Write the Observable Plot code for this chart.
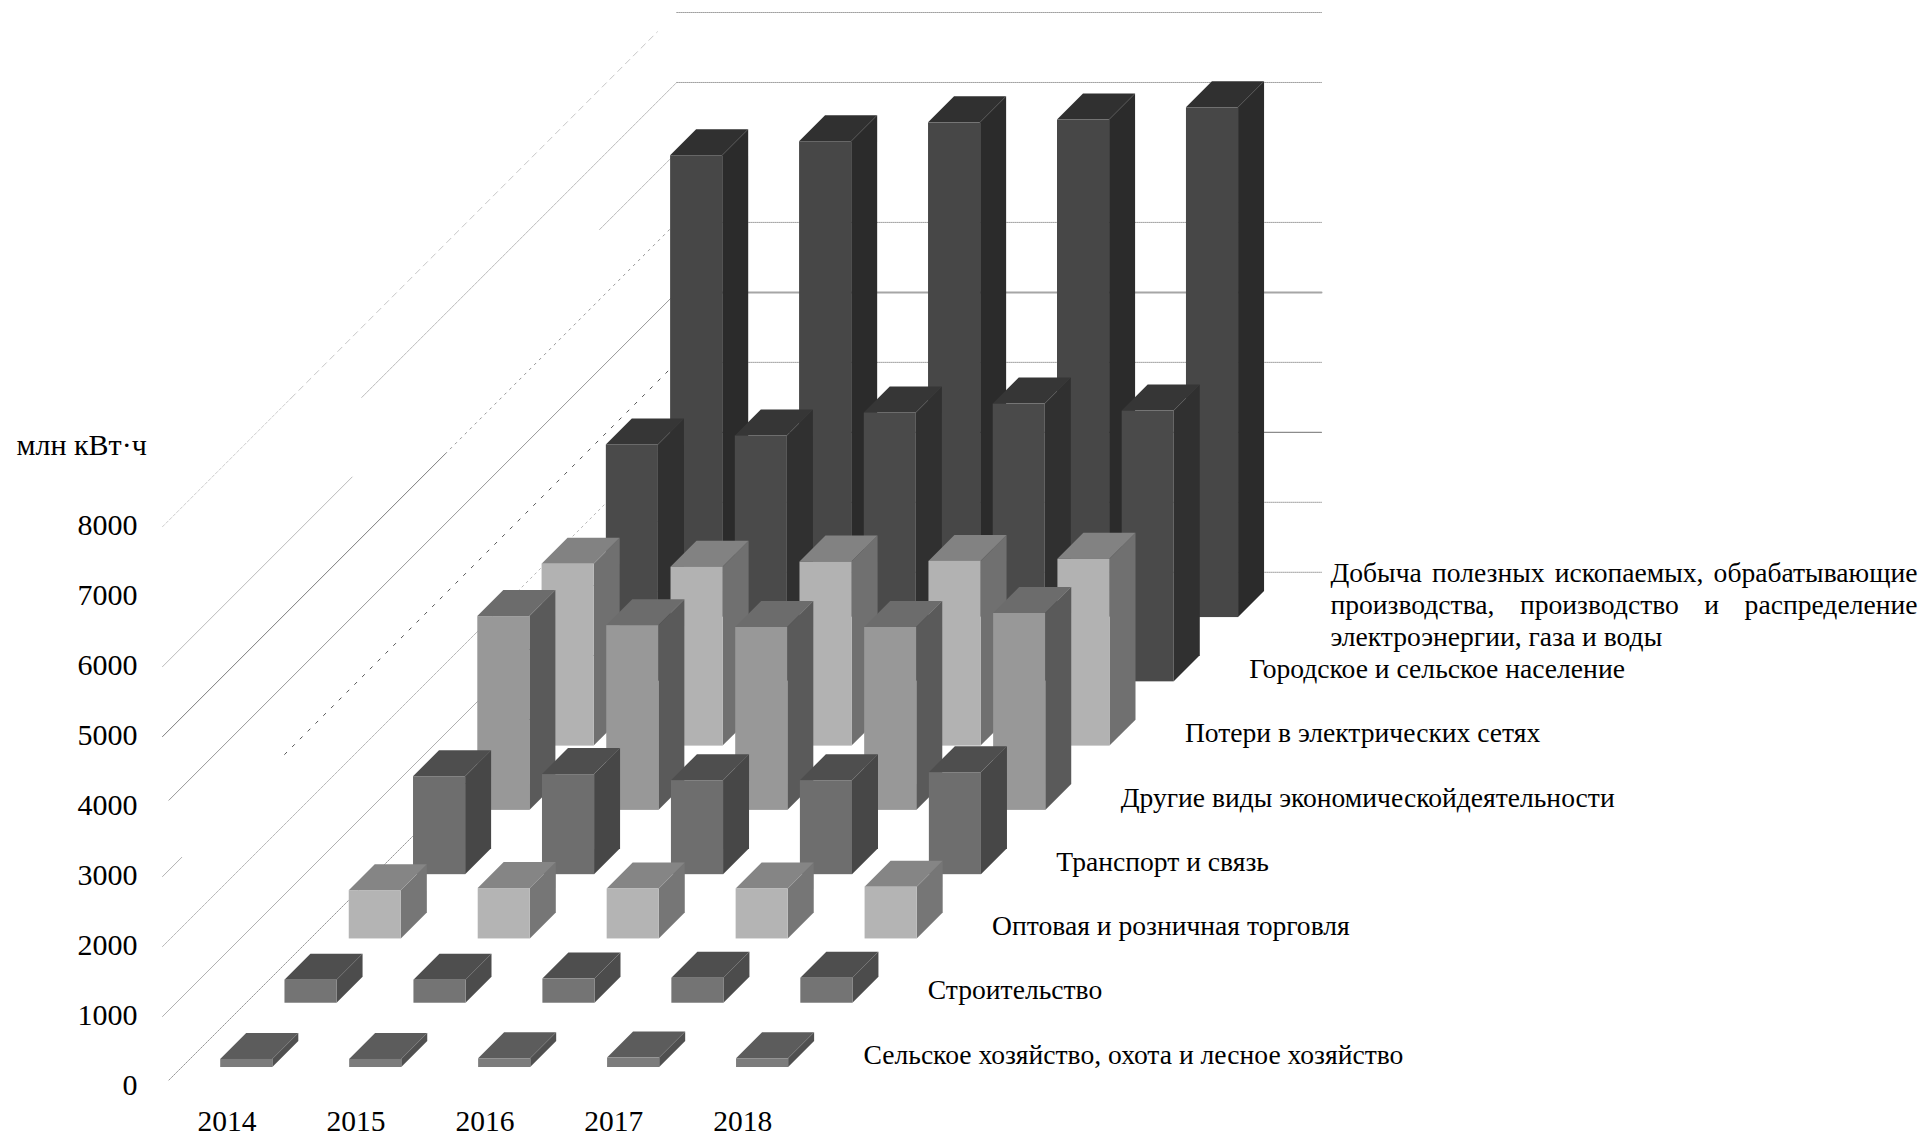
<!DOCTYPE html>
<html lang="ru">
<head>
<meta charset="utf-8">
<title>Потребление электроэнергии по видам деятельности</title>
<script src="https://cdn.jsdelivr.net/npm/d3@7"></script>
<script src="https://cdn.jsdelivr.net/npm/@observablehq/plot@0.6"></script>
<style>
  html, body { margin: 0; padding: 0; background: #fff; }
  svg { display: block; }
</style>
</head>
<body>
<script>
// Consumption per sector, million kWh, 2014–2018
const years = [2014, 2015, 2016, 2017, 2018];
const agriculture = [115, 115, 125, 135, 125];
const construction = [330, 330, 345, 357, 357];
const trade = [690, 720, 714, 714, 740];
const transport = [1400, 1430, 1343, 1343, 1457];
const otherActivities = [2770, 2640, 2614, 2614, 2814];
const gridLosses = [2600, 2557, 2630, 2640, 2670];
const households = [3386, 3514, 3843, 3970, 3870];
const industry = [6600, 6800, 7070, 7110, 7285];

const valueTicks = [0, 1000, 2000, 3000, 4000, 5000, 6000, 7000, 8000];

// Rows from the front of the chart to the back, with face greys
const rows = [
  {name: "Сельское хозяйство, охота и лесное хозяйство", values: agriculture, front: "#7c7c7c", top: "#5c5c5c", side: "#505050"},
  {name: "Строительство", values: construction, front: "#747474", top: "#4e4e4e", side: "#4c4c4c"},
  {name: "Оптовая и розничная торговля", values: trade, front: "#b4b4b4", top: "#858585", side: "#767676"},
  {name: "Транспорт и связь", values: transport, front: "#6e6e6e", top: "#4e4e4e", side: "#474747"},
  {name: "Другие виды экономическойдеятельности", values: otherActivities, front: "#989898", top: "#6c6c6c", side: "#5a5a5a"},
  {name: "Потери в электрических сетях", values: gridLosses, front: "#b2b2b2", top: "#828282", side: "#707070"},
  {name: "Городское и сельское население", values: households, front: "#4a4a4a", top: "#363636", side: "#303030"},
  {name: "", values: industry, front: "#474747", top: "#303030", side: "#2b2b2b"}
];
const industryLabel = [
  "Добыча полезных ископаемых, обрабатывающие",
  "производства, производство и распределение",
  "электроэнергии, газа и воды"
];

// Oblique projection: one depth row moves a point right and up
const rowDx = 0.4984;        // in year slots
const rowDy = 918.6;         // in value units
const barLeft = 0.304, barRight = 0.708;
const depthFront = 0.2955, depthBack = 0.6999;
const px = (slot, depth) => slot + depth * rowDx;
const py = (value, depth) => value + depth * rowDy;

const depthExtent = rows.length;
const xMax = years.length + depthExtent * rowDx;
const yMax = 8000 + depthExtent * rowDy;

// Back wall: horizontal rules, hidden behind the bars where they pass
const wallStyles = new Map([
  [4000, {stroke: "#a6a6a6", strokeWidth: 2}],
  [2000, {stroke: "#8c8c8c", strokeWidth: 1.2}]
]);
const wallMarks = valueTicks.filter((v) => v !== 6000).map((v) => {
  const st = wallStyles.get(v) ?? {stroke: "#a0a0a0", strokeWidth: 1, strokeDasharray: "1 1"};
  return Plot.line(
    [[px(0, depthExtent), py(v, depthExtent)], [px(years.length, depthExtent), py(v, depthExtent)]],
    st
  );
});

// Side wall: diagonal rules, each with its own visible stretch and line weight
const wallDiagonals = [
  {value: 0, from: 0.1, to: 8, dash: "1.2 1.2", stroke: "#8a8a8a", width: 0.9},
  {value: 1000, from: 0, to: 8, stroke: "#9a9a9a", width: 0.8},
  {value: 2000, from: 0, to: 5, dash: "3 1", stroke: "#a4a4a4", width: 0.8},
  {value: 2000, from: 5, to: 8, dash: "2 4", stroke: "#a4a4a4", width: 0.8},
  {value: 3000, from: 0, to: 0.3, stroke: "#a0a0a0", width: 0.8},
  {value: 3000, from: 1.9, to: 8, dash: "3 8", stroke: "#555555", width: 1},
  {value: 4000, from: 0.1, to: 8, stroke: "#7c7c7c", width: 0.8},
  {value: 5000, from: 0, to: 4.4, stroke: "#6e6e6e", width: 0.9},
  {value: 5000, from: 4.4, to: 8, dash: "2 5", stroke: "#8a8a8a", width: 0.9},
  {value: 6000, from: 0, to: 2.95, stroke: "#a8a8a8", width: 0.8},
  {value: 6000, from: 6.8, to: 8, dash: "4 1", stroke: "#a8a8a8", width: 0.8},
  {value: 7000, from: 3.1, to: 8, dash: "3 1", stroke: "#a8a8a8", width: 0.8},
  {value: 8000, from: 0, to: 2, dash: "3 2", stroke: "#c0c0c0", width: 0.8},
  {value: 8000, from: 2, to: 7.7, dash: "6 5", stroke: "#b8b8b8", width: 0.8}
];
const diagonalMarks = wallDiagonals.map((g) => Plot.line(
  [[px(0, g.from), py(g.value, g.from)], [px(0, g.to), py(g.value, g.to)]],
  {stroke: g.stroke, strokeWidth: g.width, strokeDasharray: g.dash}
));

// Each bar is three faces; rows are painted from the back forward
const barMarks = rows.map((row, r) => ({row, r})).reverse().flatMap(({row, r}) => {
  const d0 = r + depthFront, d1 = r + depthBack;
  const bars = row.values.map((value, i) => ({i, value}));
  const tops = bars.flatMap(({i, value}) => [d0, d1].map((d) => ({
    i, y: py(value, d), x1: px(i + barLeft, d), x2: px(i + barRight, d)
  })));
  const sides = bars.flatMap(({i, value}) => [d0, d1].map((d) => ({
    i, x: px(i + barRight, d), y1: py(0, d), y2: py(value, d)
  })));
  return [
    Plot.areaY(sides, {x: "x", y1: "y1", y2: "y2", z: "i", fill: row.side}),
    Plot.areaX(tops, {y: "y", x1: "x1", x2: "x2", z: "i", fill: row.top}),
    Plot.rect(bars, {
      x1: (b) => px(b.i + barLeft, d0),
      x2: (b) => px(b.i + barRight, d0),
      y1: py(0, d0),
      y2: (b) => py(b.value, d0),
      fill: row.front
    })
  ];
});

// Row names sit along the floor's right-hand edge
const labelSlot = years.length + 0.436;
const labelValue = 453;
const rowLabels = rows.slice(0, 7).map((row, r) => ({
  text: row.name,
  x: labelSlot + r * rowDx,
  y: labelValue + r * rowDy
}));
const labelSize = 27.6;

const industryRow = rows.length - 1;
const industryAt = (dy) => ({
  x: labelSlot + industryRow * rowDx,
  y: labelValue + industryRow * rowDy,
  dx: 17,
  dy,
  textAnchor: "start",
  lineAnchor: "middle",
  fontSize: labelSize,
  fill: "#000"
});

const plot = Plot.plot({
  width: 1926,
  height: 1136,
  marginLeft: 162,
  marginRight: 605,
  marginTop: 12,
  marginBottom: 50,
  style: {fontFamily: "'Liberation Serif', serif", background: "#fff", color: "#000"},
  x: {domain: [0, xMax], axis: null},
  y: {domain: [0, yMax], axis: null},
  marks: [
    ...wallMarks,
    ...diagonalMarks,
    ...barMarks,
    Plot.axisY({
      ticks: valueTicks, tickSize: 0, tickPadding: 25, tickFormat: (d) => String(d),
      fontSize: 30, label: null, anchor: "left", dy: -1
    }),
    Plot.axisX({
      ticks: years.map((_, i) => i + 0.5),
      tickFormat: (d) => String(years[Math.floor(d)]),
      tickSize: 0, tickPadding: 24, fontSize: 29.5, label: null, anchor: "bottom"
    }),
    Plot.text(["млн кВт·ч"], {
      x: -1.132, y: 9157, textAnchor: "start", lineAnchor: "middle", fontSize: 30, fill: "#000"
    }),
    Plot.text(rowLabels, {
      x: "x", y: "y", text: "text", textAnchor: "start", lineAnchor: "middle",
      fontSize: labelSize, fill: "#000"
    }),
    Plot.text([industryLabel[0]], industryAt(-32)),
    Plot.text([industryLabel[1]], industryAt(0)),
    Plot.text([industryLabel[2]], industryAt(32))
  ]
});
document.body.append(plot);

// The first two lines of the long label are set flush to both sides
const measureWidth = 587;
plot.querySelectorAll("text").forEach((t) => {
  if (!industryLabel.slice(0, 2).includes(t.textContent)) return;
  const gaps = t.textContent.split(" ").length - 1;
  t.setAttribute("word-spacing", (measureWidth - t.getComputedTextLength()) / gaps);
});
</script>
</body>
</html>
